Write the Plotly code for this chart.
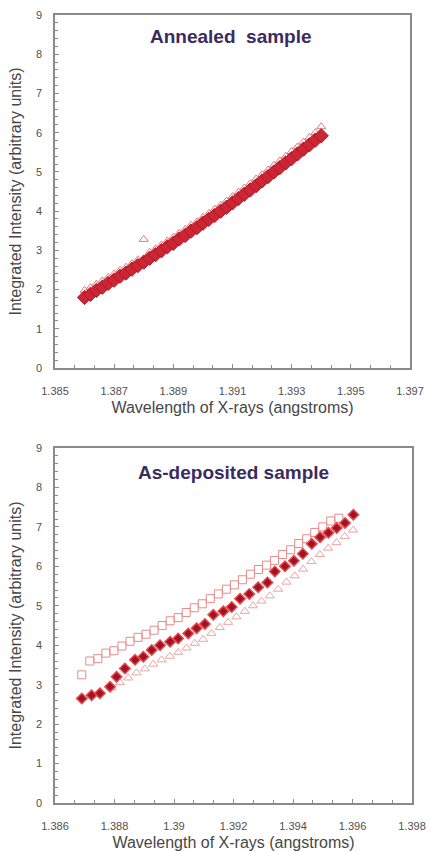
import plotly.graph_objects as go

# ---------------- Annealed sample (top) ----------------
ann_x = [1.3860, 1.3862, 1.3864, 1.3866, 1.3868, 1.3870, 1.3872, 1.3874, 1.3876, 1.3878,
         1.3880, 1.3882, 1.3884, 1.3886, 1.3888, 1.3890, 1.3892, 1.3894, 1.3896, 1.3898,
         1.3900, 1.3902, 1.3904, 1.3906, 1.3908, 1.3910, 1.3912, 1.3914, 1.3916, 1.3918,
         1.3920, 1.3922, 1.3924, 1.3926, 1.3928, 1.3930, 1.3932, 1.3934, 1.3936, 1.3938,
         1.3940]
ann_filled = [1.80, 1.88, 1.98, 2.06, 2.16, 2.24, 2.34, 2.42, 2.52, 2.61,
              2.70, 2.80, 2.89, 2.99, 3.09, 3.18, 3.29, 3.38, 3.49, 3.58,
              3.69, 3.79, 3.89, 4.00, 4.10, 4.21, 4.32, 4.43, 4.54, 4.65,
              4.77, 4.88, 5.00, 5.11, 5.23, 5.34, 5.46, 5.58, 5.69, 5.81,
              5.92]
ann_open = [1.98, 2.05, 2.14, 2.22, 2.31, 2.40, 2.49, 2.57, 2.66, 2.76,
            3.28, 2.95, 3.04, 3.14, 3.24, 3.33, 3.44, 3.53, 3.64, 3.73,
            3.84, 3.94, 4.05, 4.15, 4.26, 4.37, 4.48, 4.59, 4.70, 4.82,
            4.93, 5.05, 5.17, 5.28, 5.40, 5.52, 5.64, 5.76, 5.88, 6.00,
            6.15]

# ---------------- As-deposited sample (bottom) ----------------
dep_sq_x = [1.38690, 1.38717, 1.38744, 1.38771, 1.38798, 1.38825, 1.38852, 1.38879,
            1.38906, 1.38933, 1.38960, 1.38987, 1.39014, 1.39041, 1.39068, 1.39095,
            1.39122, 1.39149, 1.39176, 1.39203, 1.39230, 1.39257, 1.39284, 1.39311,
            1.39338, 1.39365, 1.39392, 1.39419, 1.39446, 1.39473, 1.39500, 1.39527,
            1.39554]
dep_sq_y = [3.25, 3.60, 3.66, 3.80, 3.86, 3.98, 4.10, 4.20,
            4.28, 4.38, 4.50, 4.62, 4.70, 4.83, 4.95, 5.05,
            5.18, 5.30, 5.42, 5.53, 5.66, 5.80, 5.92, 6.03,
            6.15, 6.30, 6.42, 6.58, 6.70, 6.86, 7.00, 7.15,
            7.22]

dep_mid_x = [1.38690, 1.38723, 1.38751, 1.38785, 1.38807, 1.38835, 1.38869, 1.38897,
             1.38925, 1.38953, 1.38987, 1.39014, 1.39048, 1.39076, 1.39104, 1.39132,
             1.39166, 1.39194, 1.39222, 1.39253, 1.39283, 1.39314, 1.39339, 1.39373,
             1.39403, 1.39433, 1.39463, 1.39491, 1.39519, 1.39547, 1.39575, 1.39603]
dep_mid_y = [2.65, 2.73, 2.78, 2.95, 3.20, 3.41, 3.63, 3.71,
             3.88, 4.00, 4.09, 4.17, 4.30, 4.43, 4.54, 4.77,
             4.86, 4.97, 5.18, 5.30, 5.47, 5.59, 5.87, 6.00,
             6.14, 6.32, 6.57, 6.74, 6.85, 6.97, 7.10, 7.31]

dep_tri_x = [1.38790, 1.38818, 1.38846, 1.38874, 1.38902, 1.38930, 1.38958, 1.38986,
             1.39014, 1.39042, 1.39070, 1.39098, 1.39126, 1.39154, 1.39182, 1.39210,
             1.39238, 1.39266, 1.39294, 1.39322, 1.39350, 1.39378, 1.39406, 1.39434,
             1.39462, 1.39490, 1.39518, 1.39546, 1.39574, 1.39602]
dep_tri_y = [2.92, 3.05, 3.17, 3.30, 3.40, 3.52, 3.63, 3.72,
             3.82, 3.93, 4.05, 4.15, 4.30, 4.45, 4.58, 4.72,
             4.86, 5.00, 5.12, 5.25, 5.42, 5.60, 5.76, 5.93,
             6.12, 6.30, 6.46, 6.60, 6.76, 6.92]

y_ticks = [0, 1, 2, 3, 4, 5, 6, 7, 8, 9]

TITLE_COLOR = "#3b2c5e"
AXIS_COLOR = "#8a8a8a"
TEXT_COLOR = "#505050"
FONT = "Liberation Sans, Arial, sans-serif"

fig = go.Figure()

# top traces
fig.add_trace(go.Scatter(x=ann_x, y=ann_open, mode="markers", xaxis="x", yaxis="y",
                         marker=dict(symbol="triangle-up-open", size=8, color="#e07a7a",
                                     line=dict(width=1)), showlegend=False))
fig.add_trace(go.Scatter(x=ann_x, y=ann_filled, mode="markers", xaxis="x", yaxis="y",
                         marker=dict(symbol="diamond", size=11, color="#cc2534",
                                     line=dict(width=1, color="#b01826")), showlegend=False))

# bottom traces
fig.add_trace(go.Scatter(x=dep_sq_x, y=dep_sq_y, mode="markers", xaxis="x2", yaxis="y2",
                         marker=dict(symbol="square-open", size=8, color="#e58c8c",
                                     line=dict(width=1)), showlegend=False))
fig.add_trace(go.Scatter(x=dep_tri_x, y=dep_tri_y, mode="markers", xaxis="x2", yaxis="y2",
                         marker=dict(symbol="triangle-up-open", size=8, color="#eba4a4",
                                     line=dict(width=1)), showlegend=False))
fig.add_trace(go.Scatter(x=dep_mid_x, y=dep_mid_y, mode="markers", xaxis="x2", yaxis="y2",
                         marker=dict(symbol="diamond", size=8, color="#9e1420",
                                     line=dict(width=1.5, color="#e8464e")), showlegend=False))

W, H = 431, 851


def xaxis(rng, tick0, dom, anchor):
    return dict(domain=dom, range=rng, anchor=anchor, tick0=tick0, dtick=0.002,
                ticks="inside", ticklen=4, tickcolor=AXIS_COLOR, tickwidth=1,
                minor=dict(dtick=0.002 / 3, tick0=tick0, ticks="inside", ticklen=3,
                           tickcolor=AXIS_COLOR),
                showline=True, linecolor=AXIS_COLOR, linewidth=1.5, mirror=True,
                showgrid=False, zeroline=False, ticklabelstandoff=12,
                tickfont=dict(size=11, color=TEXT_COLOR, family=FONT),
                title=dict(text="Wavelength of X-rays (angstroms)", standoff=6,
                           font=dict(size=16, color="#474747", family=FONT)))


def yaxis(dom, anchor):
    return dict(domain=dom, range=[0, 9], anchor=anchor, tickvals=y_ticks,
                ticks="inside", ticklen=4, tickcolor=AXIS_COLOR, tickwidth=1,
                minor=dict(dtick=0.2, ticks="inside", ticklen=3, tickcolor=AXIS_COLOR),
                showline=True, linecolor=AXIS_COLOR, linewidth=1.5, mirror=True,
                showgrid=False, zeroline=False, ticklabelstandoff=9,
                tickfont=dict(size=11, color=TEXT_COLOR, family=FONT),
                title=dict(text="Integrated Intensity (arbitrary units)", standoff=10,
                           font=dict(size=16, color="#474747", family=FONT)))


x_dom_top = [55 / W, 410 / W]
x_dom_bot = [55 / W, 412 / W]
y_dom_top = [(H - 368) / H, (H - 15) / H]
y_dom_bot = [(H - 803) / H, (H - 448) / H]

fig.update_layout(
    width=W, height=H, margin=dict(l=0, r=0, t=0, b=0, autoexpand=False),
    paper_bgcolor="white", plot_bgcolor="white",
    font=dict(family=FONT),
    xaxis=xaxis([1.385, 1.397], 1.385, x_dom_top, "y"),
    yaxis=yaxis(y_dom_top, "x"),
    xaxis2=xaxis([1.386, 1.398], 1.386, x_dom_bot, "y2"),
    yaxis2=yaxis(y_dom_bot, "x2"),
    annotations=[
        dict(text="<b>Annealed&nbsp; sample</b>", x=0.495, y=0.938, xref="x domain",
             yref="y domain", yanchor="middle", showarrow=False,
             font=dict(size=19, color=TITLE_COLOR, family=FONT)),
        dict(text="<b>As-deposited sample</b>", x=0.5, y=0.932, xref="x2 domain",
             yref="y2 domain", yanchor="middle", showarrow=False,
             font=dict(size=19, color=TITLE_COLOR, family=FONT)),
    ],
)

fig.write_html("out.html")
